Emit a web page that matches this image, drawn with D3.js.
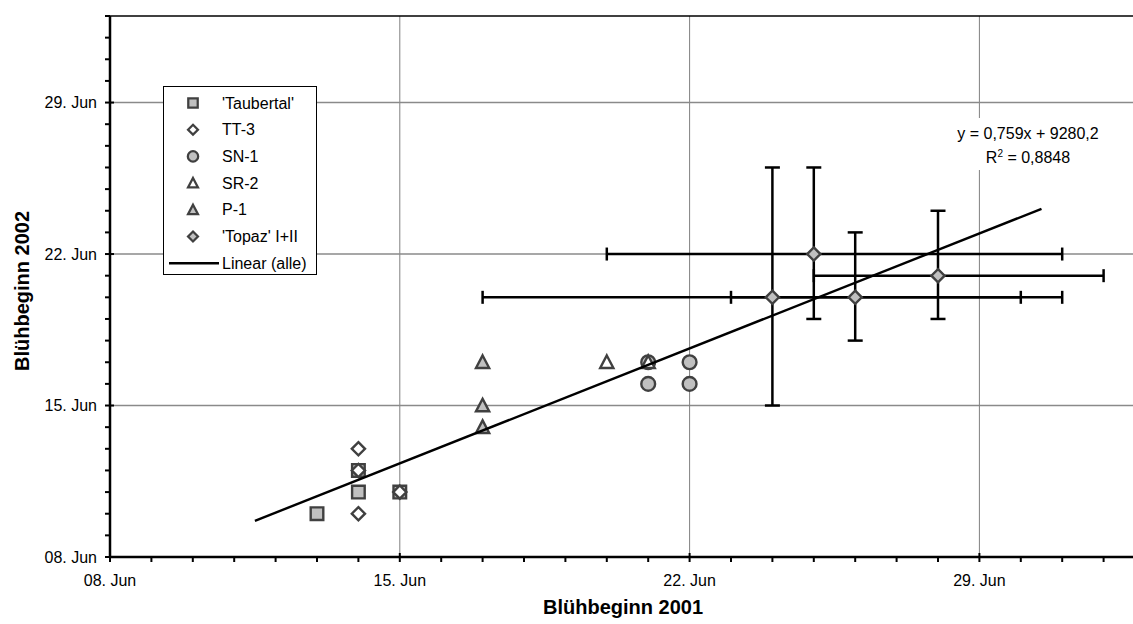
<!DOCTYPE html>
<html>
<head>
<meta charset="utf-8">
<script src="https://cdn.jsdelivr.net/npm/d3@7"></script>
<style>
  html, body { margin: 0; padding: 0; background: #fff; }
  svg { display: block; font-family: "Liberation Sans", Arial, sans-serif; }
</style>
</head>
<body>
<svg id="chart" width="1133" height="624"></svg>
<script>
// Flowering start, given as day of June (31 = 1 Jul, 32 = 2 Jul)
const taubertalX = [13, 14, 14, 15];
const taubertalY = [10, 11, 12, 11];
const tt3X = [14, 14, 15, 14];
const tt3Y = [13, 12, 11, 10];
const sn1X = [21, 21, 22, 22];
const sn1Y = [17, 16, 17, 16];
const sr2X = [20, 21];
const sr2Y = [17, 17];
const p1X = [17, 17, 17];
const p1Y = [17, 15, 14];
const topazX = [24, 26, 25, 28];
const topazY = [20, 20, 22, 21];
// error ranges for 'Topaz' (min / max, day of June)
const topazXLow  = [17, 23, 20, 25];
const topazXHigh = [31, 30, 31, 32];
const topazYLow  = [15, 18, 19, 19];
const topazYHigh = [26, 23, 26, 24];
// linear trend over all points
const trendX = [11.5, 30.5];
const trendY = [9.67, 24.09];
const equationLines = ["y = 0,759x + 9280,2", " = 0,8848"];
const gridDays = [15, 22, 29];
const tickLabelDays = [8, 15, 22, 29];
const legendNames = ["'Taubertal'", "TT-3", "SN-1", "SR-2", "P-1", "'Topaz' I+II", "Linear (alle)"];

const svg = d3.select("#chart");
const DAY = 864e5;
const june2001 = new Date(2001, 5, 1).getTime();
const june2002 = new Date(2002, 5, 1).getTime();
const d2001 = d => new Date(june2001 + (d - 1) * DAY);
const d2002 = d => new Date(june2002 + (d - 1) * DAY);

const x = d3.scaleTime().domain([d2001(8), d2001(33)]).range([110, 1145]);
const y = d3.scaleTime().domain([d2002(8), d2002(33)]).range([557, 16]);
const fmt = d3.timeFormat("%d. %b");
const monthFix = s => s.replace("June", "Jun");
const isMajor = d => d.getMonth() === 5 && d.getDate() % 7 === 1;

const markStroke = "#404040";
const markFill = "#c0c0c0";
const fs = 16;

// grid lines
const grid = svg.append("g");
gridDays.forEach(d => {
  grid.append("line").attr("x1", x(d2001(d))).attr("x2", x(d2001(d)))
    .attr("y1", y(d2002(33))).attr("y2", y(d2002(8)))
    .attr("stroke", "#808080").attr("stroke-width", 1);
  grid.append("line").attr("x1", x(d2001(8))).attr("x2", 1133)
    .attr("y1", y(d2002(d))).attr("y2", y(d2002(d)))
    .attr("stroke", "#8a8a8a").attr("stroke-width", 1.5);
});
// top frame
svg.append("line").attr("x1", x(d2001(8))).attr("x2", 1133)
  .attr("y1", y(d2002(33))).attr("y2", y(d2002(33)))
  .attr("stroke", "#000").attr("stroke-width", 1.5);

// axes
const dayTicksX = d3.range(8, 34).map(d2001);
const dayTicksY = d3.range(8, 34).map(d2002);
const xAxis = svg.append("g").attr("transform", `translate(0,${y(d2002(8))})`);
xAxis.append("line").attr("x1", x(d2001(8))).attr("x2", 1133).attr("stroke", "#000").attr("stroke-width", 2.5);
xAxis.selectAll("line.t").data(dayTicksX).join("line").attr("class", "t")
  .attr("x1", d => x(d)).attr("x2", d => x(d))
  .attr("y1", d => isMajor(d) ? -4 : 0).attr("y2", 5)
  .attr("stroke", "#000").attr("stroke-width", 2);
xAxis.selectAll("text").data(tickLabelDays.map(d2001)).join("text")
  .attr("x", d => x(d)).attr("y", 29).attr("text-anchor", "middle")
  .attr("font-size", fs).attr("fill", "#000").text(d => monthFix(fmt(d)));

const yAxis = svg.append("g").attr("transform", `translate(${x(d2001(8))},0)`);
yAxis.append("line").attr("y1", y(d2002(8)) + 1).attr("y2", y(d2002(33))).attr("stroke", "#000").attr("stroke-width", 2.5);
yAxis.selectAll("line.t").data(dayTicksY).join("line").attr("class", "t")
  .attr("y1", d => y(d)).attr("y2", d => y(d))
  .attr("x1", -5).attr("x2", d => isMajor(d) ? 4 : 0)
  .attr("stroke", "#000").attr("stroke-width", 2);
yAxis.selectAll("text").data(tickLabelDays.map(d2002)).join("text")
  .attr("x", -13).attr("y", d => y(d) + 5.5).attr("text-anchor", "end")
  .attr("font-size", fs).attr("fill", "#000").text(d => monthFix(fmt(d)));

// axis titles
svg.append("text").attr("x", 623).attr("y", 614).attr("text-anchor", "middle")
  .attr("font-size", 20).attr("font-weight", "bold").text("Blühbeginn 2001");
svg.append("text").attr("transform", "translate(29,291) rotate(-90)").attr("text-anchor", "middle")
  .attr("font-size", 20).attr("font-weight", "bold").text("Blühbeginn 2002");

// error bars for 'Topaz'
const eb = svg.append("g").attr("stroke", "#000").attr("stroke-width", 2.5);
topazX.forEach((xv, i) => {
  const cx = x(d2001(xv)), cy = y(d2002(topazY[i]));
  const xl = x(d2001(topazXLow[i])), xh = x(d2001(topazXHigh[i]));
  const yl = y(d2002(topazYLow[i])), yh = y(d2002(topazYHigh[i]));
  eb.append("line").attr("x1", xl).attr("x2", xh).attr("y1", cy).attr("y2", cy);
  eb.append("line").attr("x1", xl).attr("x2", xl).attr("y1", cy - 6.5).attr("y2", cy + 6.5);
  eb.append("line").attr("x1", xh).attr("x2", xh).attr("y1", cy - 6.5).attr("y2", cy + 6.5);
  eb.append("line").attr("x1", cx).attr("x2", cx).attr("y1", yl).attr("y2", yh);
  eb.append("line").attr("x1", cx - 7.5).attr("x2", cx + 7.5).attr("y1", yl).attr("y2", yl);
  eb.append("line").attr("x1", cx - 7.5).attr("x2", cx + 7.5).attr("y1", yh).attr("y2", yh);
});

// marker shapes
const shapes = {
  square: () => "M-6.3,-6.3H6.3V6.3H-6.3Z",
  diamond: () => "M0,-6.6L6.6,0L0,6.6L-6.6,0Z",
  circle: d3.symbol(d3.symbolCircle, 150),
  triangle: () => "M0,-6.8L6.6,5.8L-6.6,5.8Z"
};
const series = [
  { xs: taubertalX, ys: taubertalY, shape: "square", fill: markFill },
  { xs: tt3X, ys: tt3Y, shape: "diamond", fill: "#fff" },
  { xs: sn1X, ys: sn1Y, shape: "circle", fill: markFill },
  { xs: sr2X, ys: sr2Y, shape: "triangle", fill: "#fff" },
  { xs: p1X, ys: p1Y, shape: "triangle", fill: markFill },
  { xs: topazX, ys: topazY, shape: "diamond", fill: markFill }
];
const marks = svg.append("g");
series.forEach(s => {
  marks.selectAll(null).data(s.xs.map((v, i) => [v, s.ys[i]])).join("path")
    .attr("transform", d => `translate(${x(d2001(d[0]))},${y(d2002(d[1]))})`)
    .attr("d", shapes[s.shape]())
    .attr("fill", s.fill).attr("stroke", markStroke).attr("stroke-width", 2.4);
});

// trend line
svg.append("line")
  .attr("x1", x(d2001(trendX[0]))).attr("y1", y(d2002(trendY[0])))
  .attr("x2", x(d2001(trendX[1]))).attr("y2", y(d2002(trendY[1])))
  .attr("stroke", "#000").attr("stroke-width", 2.4);

// equation label
const eq = svg.append("g");
eq.append("rect").attr("x", 950).attr("y", 118).attr("width", 156).attr("height", 52).attr("fill", "#fff");
eq.append("text").attr("x", 1028).attr("y", 139).attr("text-anchor", "middle").attr("font-size", fs).text(equationLines[0]);
const r2 = eq.append("text").attr("x", 1028).attr("y", 163).attr("text-anchor", "middle").attr("font-size", fs);
r2.append("tspan").text("R");
r2.append("tspan").attr("font-size", 10).attr("dy", -6).text("2");
r2.append("tspan").attr("dy", 6).text(equationLines[1]);

// legend
const lg = svg.append("g");
lg.append("rect").attr("x", 163.5).attr("y", 86.5).attr("width", 153).attr("height", 188)
  .attr("fill", "#fff").attr("stroke", "#000").attr("stroke-width", 1);
legendNames.forEach((name, i) => {
  const ry = 103 + i * 26.7;
  if (i < series.length) {
    const s = series[i];
    lg.append("path").attr("transform", `translate(193,${ry}) scale(0.75)`)
      .attr("d", shapes[s.shape]()).attr("fill", s.fill)
      .attr("stroke", markStroke).attr("stroke-width", 3);
  } else {
    lg.append("line").attr("x1", 169).attr("x2", 219).attr("y1", ry).attr("y2", ry)
      .attr("stroke", "#000").attr("stroke-width", 2.4);
  }
  lg.append("text").attr("x", 222).attr("y", ry + 5.5)
    .attr("font-size", fs).text(name);
});
</script>
</body>
</html>
